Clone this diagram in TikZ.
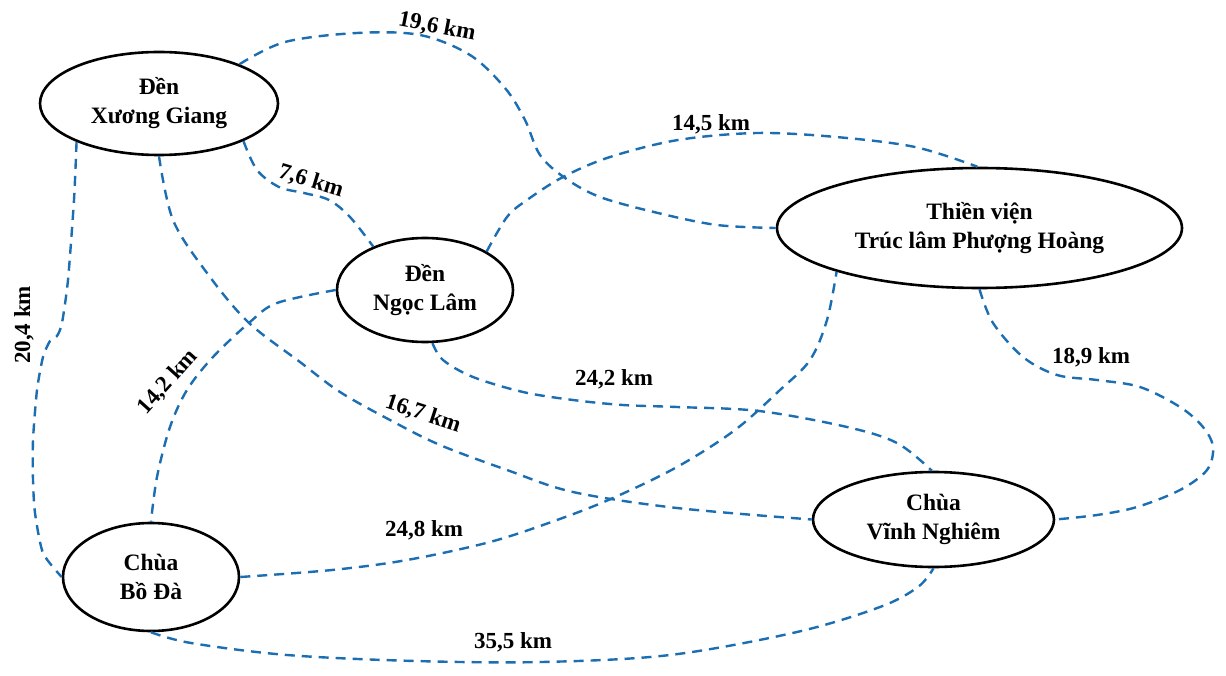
\documentclass[tikz,border=0pt]{standalone}
\usepackage{fontspec}
\setmainfont{Liberation Serif}
\usetikzlibrary{shapes.geometric}
\definecolor{roadblue}{RGB}{27,110,178}
\begin{document}
\begin{tikzpicture}[x=1pt,y=-1pt,
  place/.style={ellipse,draw=black,line width=2.6pt,inner sep=0pt,align=center,
    font=\fontsize{23.5}{29}\selectfont\bfseries},
  road/.style={draw=roadblue,line width=2.4pt,dash pattern=on 10pt off 7pt},
  dist/.style={inner sep=1pt,font=\fontsize{23}{27}\selectfont\bfseries}]
\path[use as bounding box,fill=white] (0,0) rectangle (1226,676);
% places
\node[place,minimum width=238pt,minimum height=103pt] (xg) at (159,103.5) {Đền\\Xương Giang};
\node[place,minimum width=176pt,minimum height=104pt] (nl) at (425,290) {Đền\\Ngọc Lâm};
\node[place,minimum width=405pt,minimum height=120pt] (tv) at (979.5,228) {Thiền viện\\Trúc lâm Phượng Hoàng};
\node[place,minimum width=241pt,minimum height=95pt] (vn) at (933.5,519.5) {Chùa\\Vĩnh Nghiêm};
\node[place,minimum width=176pt,minimum height=108pt] (bd) at (151,577) {Chùa\\Bồ Đà};
% roads
\draw[road] plot[smooth,tension=0.55] coordinates {(xg.26) (285,42) (357,33) (420,35) (470,55) (505,88) (525,120) (540,155) (565,178) (600,197) (658,213) (717,225) (tv.180)};
\draw[road] plot[smooth,tension=0.55] coordinates {(xg.-24) (257,170) (279,187) (304,193) (329,200) (350,217) (nl.140)};
\draw[road] plot[smooth,tension=0.55] coordinates {(nl.32) (507,217) (527,200) (563,177) (610,157) (678,140) (757,133) (836,137) (915,147) (tv.92)};
\draw[road] plot[smooth,tension=0.4] coordinates {(xg.-155) (74,200) (68,280) (62,323) (57,336) (50,341) (43,357) (37,390) (33,440) (33,480) (35,513) (43,553) (bd.180)};
\draw[road] plot[smooth,tension=0.55] coordinates {(xg.-90) (173,220) (207,273) (248,322) (300,362) (340,392) (390,420) (440,445) (507,470) (573,492) (677,508) (vn.180)};
\draw[road] plot[smooth,tension=0.55] coordinates {(nl.180) (277,303) (250,322) (213,357) (187,390) (170,427) (157,477) (bd.90)};
\draw[road] plot[smooth,tension=0.55] coordinates {(nl.-82) (443,360) (473,377) (523,392) (573,400) (623,405) (677,407) (759,411) (847,427) (897,443) (vn.92)};
\draw[road] plot[smooth,tension=0.55] coordinates {(bd.0) (332,570) (407,560) (490,542) (557,520) (613,498) (677,467) (735,430) (780,390) (810,360) (827,320) (tv.-163)};
\draw[road] plot[smooth,tension=0.55] coordinates {(tv.-90) (993,323) (1023,357) (1057,375) (1097,380) (1140,387) (1180,407) (1203,427) (1213,447) (1207,470) (1180,490) (1137,507) (1097,515) (vn.0)};
\draw[road] plot[smooth,tension=0.55] coordinates {(bd.-90) (191,643) (287,655) (415,661) (542,662) (670,655) (797,632) (880,607) (918,587) (vn.-90)};
% distances
\node[dist,rotate=-11] (d196) at (437,27) {19,6 km};
\node[dist,rotate=-17] (d76) at (311,181) {7,6 km};
\node[dist] (d145) at (711,124) {14,5 km};
\node[dist,rotate=90] (d204) at (24,325) {20,4 km};
\node[dist,rotate=-18] (d167) at (423,414) {16,7 km};
\node[dist,rotate=48] (d142) at (168,382) {14,2 km};
\node[dist] (d242) at (614,379) {24,2 km};
\node[dist] (d248) at (424,530) {24,8 km};
\node[dist] (d189) at (1091,357) {18,9 km};
\node[dist] (d355) at (513,642) {35,5 km};
\end{tikzpicture}
\end{document}
